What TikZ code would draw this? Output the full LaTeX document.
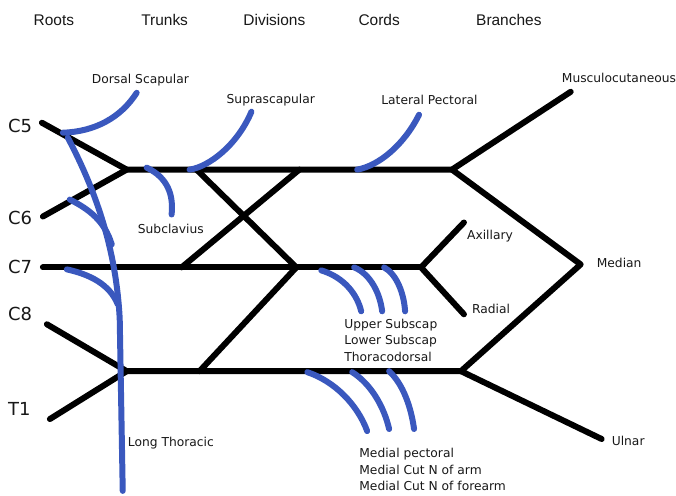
\documentclass[tikz,border=0pt]{standalone}
\usepackage{fontspec}
\setmainfont{DejaVu Sans}
\newfontfamily\headfont{Liberation Sans}
\definecolor{nerveblue}{RGB}{58,88,190}
\definecolor{inkgray}{RGB}{24,24,24}
\begin{document}
\begin{tikzpicture}[x=1pt,y=-1pt,
  plexus/.style={line width=6pt, line cap=round, line join=round, black},
  nerve/.style={line width=6pt, line cap=round, nerveblue},
  head/.style={font=\headfont\fontsize{15.5}{18}\selectfont, inner sep=0pt, text=inkgray},
  rootlbl/.style={font=\fontsize{18}{21}\selectfont, inner sep=0pt, anchor=west, text=inkgray},
  lbl/.style={font=\fontsize{12.3}{16.5}\selectfont, inner sep=0pt, anchor=west, align=left, text=inkgray},
  lblblock/.style={lbl, anchor=north west},
]
% canvas
\fill[white] (0,0) rectangle (676,497);

% column headings
\node[head] (hroots) at (54,20) {Roots};
\node[head] (htrunks) at (165,20) {Trunks};
\node[head] (hdiv) at (275,20) {Divisions};
\node[head] (hcords) at (380,20) {Cords};
\node[head] (hbranch) at (510,20) {Branches};

% root labels
\node[rootlbl] (lc5) at (8,126) {C5};
\node[rootlbl] (lc6) at (8,218) {C6};
\node[rootlbl] (lc7) at (8,268) {C7};
\node[rootlbl] (lc8) at (8,315) {C8};
\node[rootlbl] (lt1) at (8,410) {T1};

% root origins
\coordinate (c5) at (42,123);
\coordinate (c6) at (43,217);
\coordinate (c7) at (43,268);
\coordinate (c8) at (47,325);
\coordinate (t1) at (50,420);

% trunk junctions
\coordinate (upj) at (127,170);
\coordinate (loj) at (127,372);

% divisions
\coordinate (ua) at (197,170);
\coordinate (up) at (300,170);
\coordinate (mp) at (182,268);
\coordinate (pm) at (297,268);
\coordinate (la) at (200,372);

% cord ends
\coordinate (latc) at (453,170);
\coordinate (postc) at (422,268);
\coordinate (medc) at (462,372);

% terminal branches
\coordinate (musc) at (572,92);
\coordinate (median) at (582,265);
\coordinate (axil) at (465,223);
\coordinate (radial) at (465,315);
\coordinate (ulnar) at (603,440);

% black plexus lines
\draw[plexus] (c5) -- (upj) -- (latc);
\draw[plexus] (c6) -- (upj);
\draw[plexus] (c7) -- (postc);
\draw[plexus] (c8) -- (loj) -- (medc);
\draw[plexus] (t1) -- (loj);
\draw[plexus] (ua) -- (pm);
\draw[plexus] (up) -- (mp);
\draw[plexus] (pm) -- (la);
\draw[plexus] (musc) -- (latc) -- (median) -- (medc) -- (ulnar);
\draw[plexus] (axil) -- (postc) -- (radial);

% blue nerve branches
\coordinate (ds0) at (63,133);  \coordinate (ds1) at (137,93);
\coordinate (lt0) at (68,138);  \coordinate (ltm) at (120,320); \coordinate (lt1) at (123,492);
\coordinate (l60) at (70,200);  \coordinate (l61) at (112,245);
\coordinate (l70) at (67,270);  \coordinate (l71) at (118,305);
\coordinate (sc0) at (147,168); \coordinate (sc1) at (172,215);
\coordinate (ss0) at (190,170); \coordinate (ss1) at (252,112);
\coordinate (lp0) at (358,170); \coordinate (lp1) at (420,115);
\coordinate (us0) at (322,271); \coordinate (us1) at (362,312);
\coordinate (ls0) at (355,268); \coordinate (ls1) at (383,312);
\coordinate (td0) at (385,268); \coordinate (td1) at (406,312);
\coordinate (mp0) at (308,373); \coordinate (mp1) at (368,432);
\coordinate (ma0) at (353,373); \coordinate (ma1) at (390,430);
\coordinate (mf0) at (390,372); \coordinate (mf1) at (415,430);

\draw[nerve] (ds0) .. controls (95,132) and (121,118) .. (ds1);
\draw[nerve] (lt0) .. controls (90,180) and (116,240) .. (ltm) -- (lt1);
\draw[nerve] (l60) .. controls (90,210) and (105,222) .. (l61);
\draw[nerve] (l70) .. controls (90,275) and (110,285) .. (l71);
\draw[nerve] (sc0) .. controls (168,178) and (174,195) .. (sc1);
\draw[nerve] (ss0) .. controls (210,167) and (238,145) .. (ss1);
\draw[nerve] (lp0) .. controls (380,166) and (405,145) .. (lp1);
\draw[nerve] (us0) .. controls (345,278) and (358,295) .. (us1);
\draw[nerve] (ls0) .. controls (372,275) and (381,295) .. (ls1);
\draw[nerve] (td0) .. controls (398,275) and (405,295) .. (td1);
\draw[nerve] (mp0) .. controls (335,382) and (358,405) .. (mp1);
\draw[nerve] (ma0) .. controls (372,385) and (385,408) .. (ma1);
\draw[nerve] (mf0) .. controls (404,385) and (412,408) .. (mf1);

% nerve labels
\node[lbl] (tds) at (92,80) {Dorsal Scapular};
\node[lbl] (tss) at (227,100) {Suprascapular};
\node[lbl] (tlp) at (382,100) {Lateral Pectoral};
\node[lbl] (tmc) at (563,78) {Musculocutaneous};
\node[lbl] (tsc) at (138,229) {Subclavius};
\node[lbl] (tax) at (468,237) {Axillary};
\node[lbl] (tmd) at (598,264) {Median};
\node[lbl] (trd) at (473,310) {Radial};
\node[lbl] (tul) at (613,442) {Ulnar};
\node[lbl] (tlt) at (128,444) {Long Thoracic};
\node[lblblock] (tpost) at (345,319.3) {Upper Subscap\\Lower Subscap\\Thoracodorsal};
\node[lblblock] (tmed) at (360,449.3) {Medial pectoral\\Medial Cut N of arm\\Medial Cut N of forearm};

\useasboundingbox (0,0) rectangle (676,497);
\end{tikzpicture}
\end{document}
